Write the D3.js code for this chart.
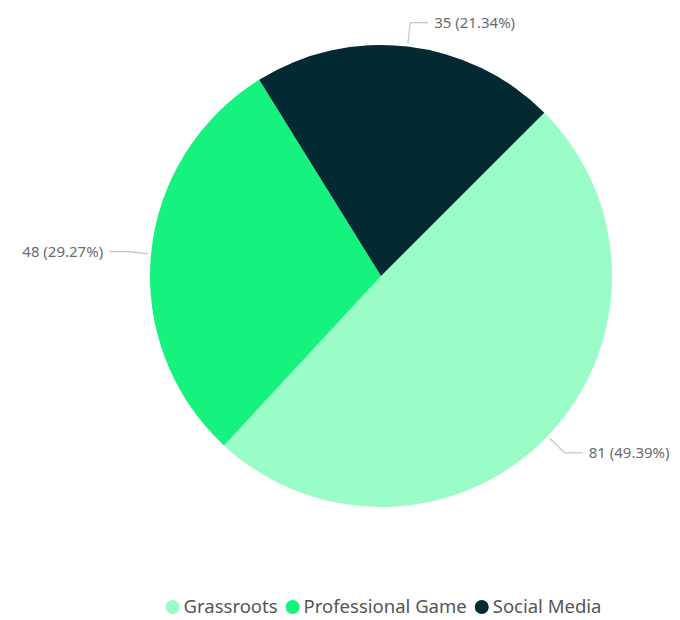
<!DOCTYPE html>
<html>
<head>
<meta charset="utf-8">
<script src="https://cdn.jsdelivr.net/npm/d3@7"></script>
<style>
  body { margin: 0; background: #fff; }
  svg { display: block; font-family: "Noto Sans", sans-serif; }
</style>
</head>
<body>
<div id="chart"></div>
<script>
// chart data
var categories = ['Grassroots', 'Professional Game', 'Social Media'];
var values = [81, 48, 35];
var colors = ['#9afcc7', '#15f27d', '#032a33'];

var width = 680, height = 620;
var cx = 381, cy = 276, radius = 231;

var svg = d3.select('#chart').append('svg')
  .attr('width', width)
  .attr('height', height);

var total = d3.sum(values);
var slices = categories.map(function(c, i) {
  return { name: c, value: values[i], color: colors[i] };
});

// pie starts at 45deg, clockwise
var pie = d3.pie()
  .sort(null)
  .value(function(d) { return d.value; })
  .startAngle(Math.PI / 4)
  .endAngle(Math.PI / 4 + 2 * Math.PI);

var arc = d3.arc().innerRadius(0).outerRadius(radius);

var g = svg.append('g').attr('transform', 'translate(' + cx + ',' + cy + ')');

var arcs = pie(slices);

g.selectAll('path.slice')
  .data(arcs)
  .enter().append('path')
  .attr('class', 'slice')
  .attr('d', arc)
  .attr('fill', function(d) { return d.data.color; });

// leader lines + labels
function pt(a, r) { return [Math.sin(a) * r, -Math.cos(a) * r]; }

arcs.forEach(function(d) {
  var mid = (d.startAngle + d.endAngle) / 2;
  var p0 = pt(mid, radius + 3);
  var p1 = pt(mid, radius + 24);
  var right = Math.sin(mid) >= 0;
  var p2 = [p1[0] + (right ? 18 : -18), p1[1]];

  g.append('polyline')
    .attr('points', [p0, p1, p2].map(function(p) { return p.join(','); }).join(' '))
    .attr('fill', 'none')
    .attr('stroke', '#c4c4c4')
    .attr('stroke-width', 1.2);

  var pct = (d.data.value / total * 100).toFixed(2);
  g.append('text')
    .attr('x', p2[0] + (right ? 6 : -6))
    .attr('y', p2[1])
    .attr('dy', '0.35em')
    .attr('text-anchor', right ? 'start' : 'end')
    .attr('fill', '#6b6b6b')
    .style('font-size', '15px')
    .text(d.data.value + ' (' + pct + '%)');
});

// legend, laid out left to right and centred under the pie
var legend = svg.append('g').attr('transform', 'translate(0,607)');
var x = 0;
var items = [];
slices.forEach(function(s, i) {
  var item = legend.append('g');
  item.append('circle').attr('r', 7).attr('fill', s.color);
  var t = item.append('text')
    .attr('x', 11)
    .attr('dy', '0.35em')
    .attr('fill', '#555')
    .style('font-size', '18.5px')
    .text(s.name);
  var w = 11 + t.node().getComputedTextLength();
  items.push({ g: item, x: x });
  x += w + 15;
});
var legendW = x - 15;
var startX = 380 - legendW / 2 + 7;
items.forEach(function(it) {
  it.g.attr('transform', 'translate(' + (startX + it.x) + ',0)');
});
</script>
</body>
</html>
